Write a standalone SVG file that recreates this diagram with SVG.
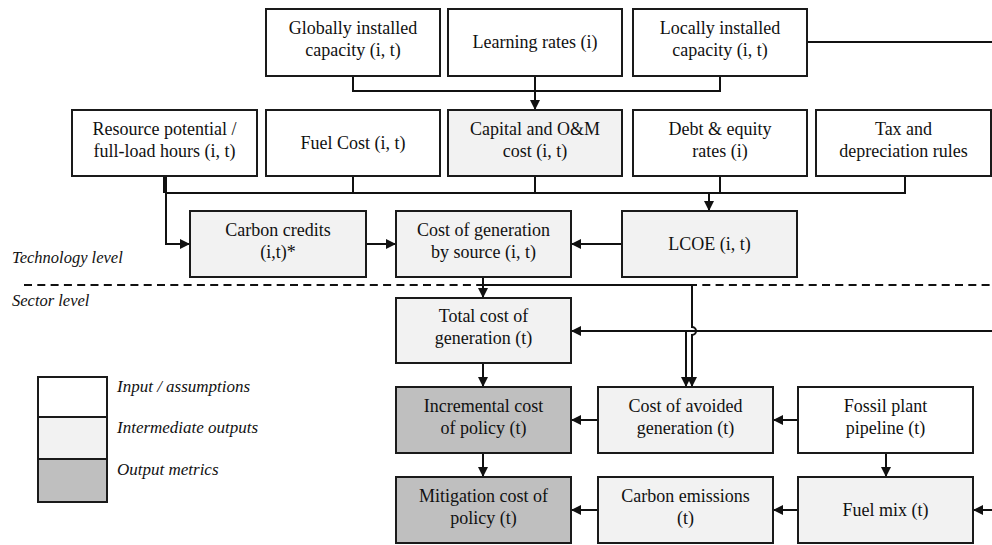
<svg xmlns="http://www.w3.org/2000/svg" width="992" height="545" viewBox="0 0 992 545">
<style>
  .box rect { stroke: #1a1a1a; stroke-width: 2; }
  .in { fill: #ffffff; }
  .mid { fill: #f2f2f2; }
  .out { fill: #bfbfbf; }
  text { font-family: 'Liberation Serif', 'DejaVu Serif', serif; font-size: 18px; fill: #111; }
  .box text { text-anchor: middle; }
  .lbl { font-style: italic; font-size: 16.5px; }
  .con path { fill: none; stroke: #111; stroke-width: 2; }
  .arr { marker-end: url(#ah); }
  .dash { fill: none; stroke: #111; stroke-width: 2; stroke-dasharray: 8 5.3; }
</style>
<defs>
  <marker id="ah" markerWidth="11" markerHeight="11" refX="10" refY="5" orient="auto" markerUnits="userSpaceOnUse">
    <path d="M0,0 L10,5 L0,10 z" fill="#111"/>
  </marker>
</defs>
<rect width="992" height="545" fill="#ffffff"/>
<g font-family="Liberation Serif, DejaVu Serif, serif">
<path class="dash" d="M24,285 H992"/>
<text class="lbl" x="12" y="263">Technology level</text>
<text class="lbl" x="12" y="306">Sector level</text>

<g id="connectors" class="con">
  <path d="M353,76 V91 H720 V76"/>
  <path class="arr" d="M535,76 V110"/>
  <path d="M807,42 H992"/>
  <path d="M164,176 V193"/>
  <path class="arr" d="M166,176 V244 H190"/>
  <path d="M166,193 H905 V176"/>
  <path d="M353,176 V193"/>
  <path d="M535,176 V193"/>
  <path d="M720,176 V193"/>
  <path class="arr" d="M709,193 V211"/>
  <path class="arr" d="M366,244 H396"/>
  <path class="arr" d="M622,244 H571"/>
  <path class="arr" d="M483,277 V298"/>
  <path class="arr" d="M483,285 H692 V327 A4,4 0 0 1 692,335 V387"/>
  <path class="arr" d="M992,331 H571"/>
  <path class="arr" d="M686,331 V387"/>
  <path class="arr" d="M483,363 V387"/>
  <path class="arr" d="M598,420 H571"/>
  <path class="arr" d="M798,420 H773"/>
  <path class="arr" d="M886,453 V477"/>
  <path class="arr" d="M992,510 H973"/>
  <path class="arr" d="M798,510 H773"/>
  <path class="arr" d="M598,510 H571"/>
  <path class="arr" d="M483,453 V477"/>
</g>

<g id="globally" class="box"><rect class="in" x="266" y="9" width="174" height="67"/><text x="353" y="34">Globally installed</text><text x="353" y="56">capacity (i, t)</text></g>
<g id="learning" class="box"><rect class="in" x="448" y="9" width="174" height="67"/><text x="535" y="48">Learning rates (i)</text></g>
<g id="locally" class="box"><rect class="in" x="633" y="9" width="174" height="67"/><text x="720" y="34">Locally installed</text><text x="720" y="56">capacity (i, t)</text></g>

<g id="resource" class="box"><rect class="in" x="72" y="110" width="185" height="66"/><text x="164.5" y="135">Resource potential /</text><text x="164.5" y="157">full-load hours (i, t)</text></g>
<g id="fuelcost" class="box"><rect class="in" x="266" y="110" width="174" height="66"/><text x="353" y="149">Fuel Cost (i, t)</text></g>
<g id="capital" class="box"><rect class="mid" x="448" y="110" width="174" height="66"/><text x="535" y="135">Capital and O&amp;M</text><text x="535" y="157">cost (i, t)</text></g>
<g id="debt" class="box"><rect class="in" x="633" y="110" width="174" height="66"/><text x="720" y="135">Debt &amp; equity</text><text x="720" y="157">rates (i)</text></g>
<g id="tax" class="box"><rect class="in" x="816" y="110" width="175" height="66"/><text x="903.5" y="135">Tax and</text><text x="903.5" y="157">depreciation rules</text></g>

<g id="carbon-credits" class="box"><rect class="mid" x="190" y="211" width="176" height="66"/><text x="278" y="235.5">Carbon credits</text><text x="278" y="257.5">(i,t)*</text></g>
<g id="cost-gen-source" class="box"><rect class="mid" x="396" y="211" width="175" height="66"/><text x="483.5" y="235.5">Cost of generation</text><text x="483.5" y="257.5">by source (i, t)</text></g>
<g id="lcoe" class="box"><rect class="mid" x="622" y="211" width="175" height="66"/><text x="709.5" y="250">LCOE (i, t)</text></g>

<g id="total-cost" class="box"><rect class="mid" x="396" y="298" width="175" height="65"/><text x="483.5" y="322">Total cost of</text><text x="483.5" y="344">generation (t)</text></g>
<g id="incremental" class="box"><rect class="out" x="396" y="387" width="175" height="66"/><text x="483.5" y="411.5">Incremental cost</text><text x="483.5" y="433.5">of policy (t)</text></g>
<g id="avoided" class="box"><rect class="mid" x="598" y="387" width="175" height="66"/><text x="685.5" y="411.5">Cost of avoided</text><text x="685.5" y="433.5">generation (t)</text></g>
<g id="fossil" class="box"><rect class="in" x="798" y="387" width="175" height="66"/><text x="885.5" y="411.5">Fossil plant</text><text x="885.5" y="433.5">pipeline (t)</text></g>
<g id="mitigation" class="box"><rect class="out" x="396" y="477" width="175" height="66"/><text x="483.5" y="501.5">Mitigation cost of</text><text x="483.5" y="523.5">policy (t)</text></g>
<g id="emissions" class="box"><rect class="mid" x="598" y="477" width="175" height="66"/><text x="685.5" y="501.5">Carbon emissions</text><text x="685.5" y="523.5">(t)</text></g>
<g id="fuel-mix" class="box"><rect class="mid" x="798" y="477" width="175" height="66"/><text x="885.5" y="516">Fuel mix (t)</text></g>

<g id="legend">
  <g class="box"><rect class="in" x="38" y="377" width="69" height="40"/></g>
  <g class="box"><rect class="mid" x="38" y="417" width="69" height="42"/></g>
  <g class="box"><rect class="out" x="38" y="459" width="69" height="43"/></g>
  <text class="lbl" x="117" y="392" style="font-size:17px">Input / assumptions</text>
  <text class="lbl" x="117" y="433" style="font-size:17px">Intermediate outputs</text>
  <text class="lbl" x="117" y="475" style="font-size:17px">Output metrics</text>
</g>
</g>
</svg>
